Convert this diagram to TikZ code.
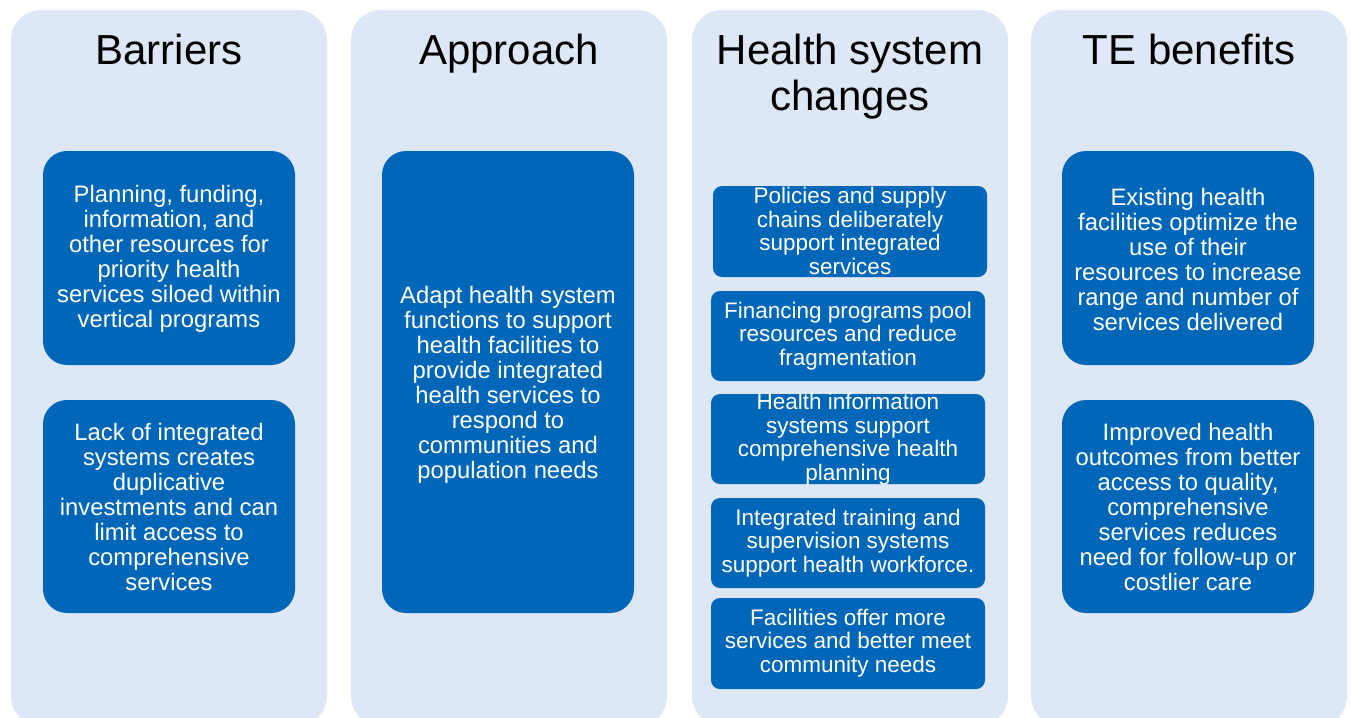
\documentclass[tikz,border=0pt]{standalone}
\usepackage{fontspec}
\setmainfont{Liberation Sans}
\definecolor{panelbg}{RGB}{222,231,246}
\definecolor{boxblue}{RGB}{0,102,184}
\begin{document}
\begin{tikzpicture}[x=1pt,y=-1pt,
  panel/.style={fill=panelbg, draw=none, rounded corners=30pt},
  title/.style={anchor=base, align=center, font=\fontsize{42}{45}\selectfont},
  bigbox/.style={fill=boxblue, draw=none, rounded corners=24pt},
  smallbox/.style={fill=boxblue, draw=none, rounded corners=9pt},
  bigtext/.style={text=white, align=center, inner sep=0pt, font=\fontsize{23.8}{25}\selectfont},
  smalltext/.style={text=white, align=center, inner sep=0pt, font=\fontsize{22.5}{23.5}\selectfont}]
\useasboundingbox (0,0) rectangle (1351,717);
\fill[white] (0,0) rectangle (1351,717);

% column panels
\path[panel] (11,10) rectangle (327,726);
\path[panel] (351,10) rectangle (667,726);
\path[panel] (692,10) rectangle (1008,726);
\path[panel] (1031,10) rectangle (1347,726);

% column titles (base anchor sits on the last line)
\node[title] (tBar) at (169,65) {Barriers};
\node[title] (tApp) at (509,65) {Approach};
\node[title] (tHsc) at (850,110) {Health system\\changes};
\node[title] (tTe) at (1189,65) {TE benefits};

% barriers
\path[bigbox] (43,151) rectangle (295,365);
\node[bigtext] (b1) at (169,259) {Planning, funding,\\information, and\\other resources for\\priority health\\services siloed within\\vertical programs};
\path[bigbox] (43,400) rectangle (295,613);
\node[bigtext] (b2) at (169,507) {Lack of integrated\\systems creates\\duplicative\\investments and can\\limit access to\\comprehensive\\services};

% approach
\path[bigbox] (382,151) rectangle (634,613);
\node[bigtext] (a1) at (508,385) {Adapt health system\\functions to support\\health facilities to\\provide integrated\\health services to\\respond to\\communities and\\population needs};

% health system changes
\path[smallbox] (713,186) rectangle (987,277);
\node[smalltext] (h1) at (850,231) {Policies and supply\\chains deliberately\\support integrated\\services};
\path[smallbox] (711,291) rectangle (985,381);
\node[smalltext] (h2) at (848,336) {Financing programs pool\\resources and reduce\\fragmentation};
\path[smallbox] (711,394) rectangle (985,484);
\node[smalltext] (h3) at (848,439) {Health information\\systems support\\comprehensive health\\planning};
\path[smallbox] (711,498) rectangle (985,588);
\node[smalltext] (h4) at (848,543) {Integrated training and\\supervision systems\\support health workforce.};
\path[smallbox] (711,598) rectangle (985,689);
\node[smalltext] (h5) at (848,643) {Facilities offer more\\services and better meet\\community needs};

% TE benefits
\path[bigbox] (1062,151) rectangle (1314,365);
\node[bigtext] (e1) at (1188,259) {Existing health\\facilities optimize the\\use of their\\resources to increase\\range and number of\\services delivered};
\path[bigbox] (1062,400) rectangle (1314,613);
\node[bigtext] (e2) at (1188,507) {Improved health\\outcomes from better\\access to quality,\\comprehensive\\services reduces\\need for follow-up or\\costlier care};
\end{tikzpicture}
\end{document}
